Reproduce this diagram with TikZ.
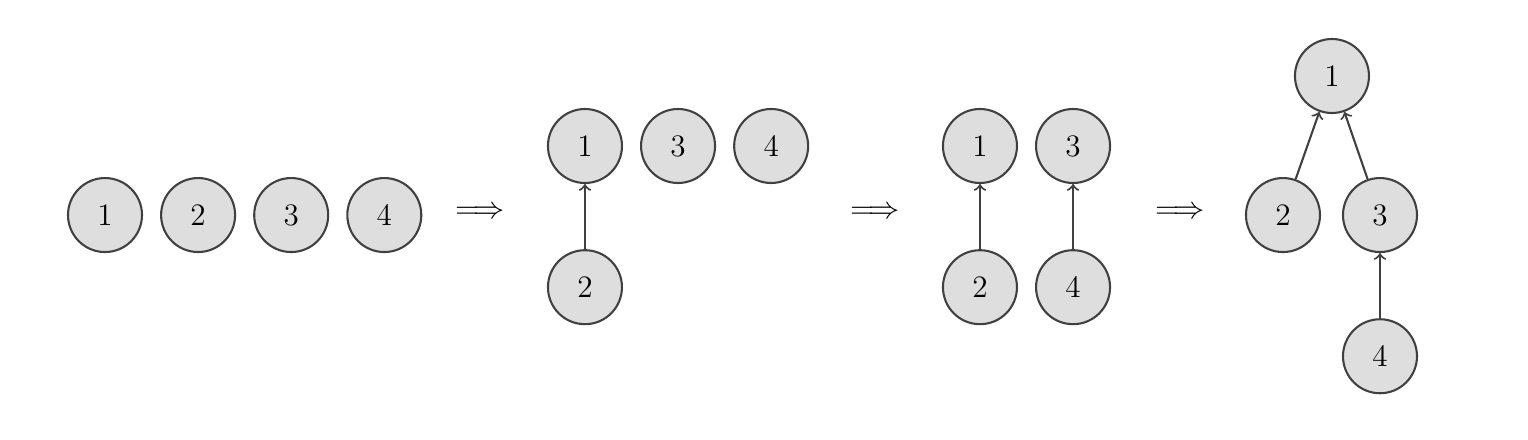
\documentclass[tikz,border=0pt]{standalone}
\usepackage{amsmath}
\usepackage{amssymb}
\usepackage{xcolor}
\usepackage{tikz}
\usetikzlibrary{arrows,positioning}

\begin{document}
\begin{tikzpicture}[
    node distance=0.23cm,
    elem/.style={circle, draw=black!75, fill=black!13, minimum size=1cm, inner sep=0pt, thick, font=\large},
    arrow/.style={->, >=to, draw=black!75, thick}
]
    \useasboundingbox (0,0) rectangle (20.649,5.946);

    % initial sets
    \node[elem] at (1.419,3.04) (a1) {1};
    \node[elem, right=of a1] (a2) {2};
    \node[elem, right=of a2] (a3) {3};
    \node[elem, right=of a3] (a4) {4};

    \node[font=\large] at (6.486,3.07) (s1) {$\Longrightarrow$};

    % union 1 and 2
    \node[elem] at (7.905,3.973) (b1) {1};
    \node[elem, right=of b1] (b3) {3};
    \node[elem, right=of b3] (b4) {4};
    \node[elem, below=0.88cm of b1] (b2) {2};
    \draw[arrow] (b2) -- (b1);

    \node[font=\large] at (11.824,3.07) (s2) {$\Longrightarrow$};

    % union 3 and 4
    \node[elem] at (13.243,3.973) (c1) {1};
    \node[elem, right=of c1] (c3) {3};
    \node[elem, below=0.88cm of c1] (c2) {2};
    \node[elem, below=0.88cm of c3] (c4) {4};
    \draw[arrow] (c2) -- (c1);
    \draw[arrow] (c4) -- (c3);

    \node[font=\large] at (15.946,3.07) (s3) {$\Longrightarrow$};

    % union 1 and 3
    \node[elem] at (18.0,4.919) (d1) {1};
    \node[elem] at (17.338,3.04) (d2) {2};
    \node[elem] at (18.649,3.04) (d3) {3};
    \node[elem, below=0.88cm of d3] (d4) {4};
    \draw[arrow] (d2) -- (d1);
    \draw[arrow] (d3) -- (d1);
    \draw[arrow] (d4) -- (d3);
\end{tikzpicture}
\end{document}
